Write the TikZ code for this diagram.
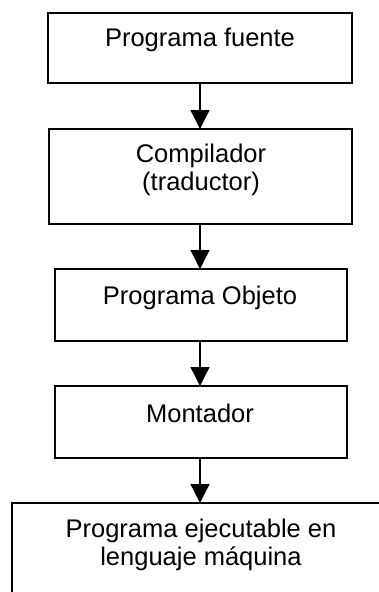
\documentclass[tikz,border=0pt]{standalone}
\usepackage{fontspec}
\setmainfont{Liberation Sans}
\usetikzlibrary{arrows.meta}
\begin{document}
\begin{tikzpicture}[x=1pt,y=-1pt,
  box/.style={draw=black, line width=1.6pt, rectangle, inner sep=0pt, outer sep=0pt, anchor=north west},
  lbl/.style={inner sep=0pt, align=center, font=\fontsize{25.5}{28}\selectfont},
  arr/.style={line width=1.3pt, -{Triangle[length=19pt,width=19pt]}}]
\useasboundingbox (0,0) rectangle (379,592);
\clip (0,0) rectangle (379,592);
\fill[white] (0,0) rectangle (379,592);
\node[box, minimum width=304pt, minimum height=70pt] (b1) at (48,13) {};
\node[box, minimum width=303pt, minimum height=95pt] (b2) at (49,129) {};
\node[box, minimum width=292pt, minimum height=72pt] (b3) at (55,269) {};
\node[box, minimum width=292pt, minimum height=72pt] (b4) at (55,386) {};
\node[box, minimum width=400pt, minimum height=120pt] (b5) at (12,503) {};
\node[lbl, anchor=base] (t1) at (200,46) {Programa fuente};
\node[lbl, anchor=north] (t2) at (201,143.5) {Compilador\\(traductor)};
\node[lbl, anchor=base] (t3) at (200,304) {Programa Objeto};
\node[lbl, anchor=base] (t4) at (200,422) {Montador};
\node[lbl, anchor=north] (t5) at (201,518.5) {Programa ejecutable en\\lenguaje máquina};
\coordinate (ax) at (200,0);
\draw[arr] (b1.south -| ax) -- (b2.north -| ax);
\draw[arr] (b2.south -| ax) -- (b3.north -| ax);
\draw[arr] (b3.south -| ax) -- (b4.north -| ax);
\draw[arr] (b4.south -| ax) -- (b5.north -| ax);
\end{tikzpicture}
\end{document}
